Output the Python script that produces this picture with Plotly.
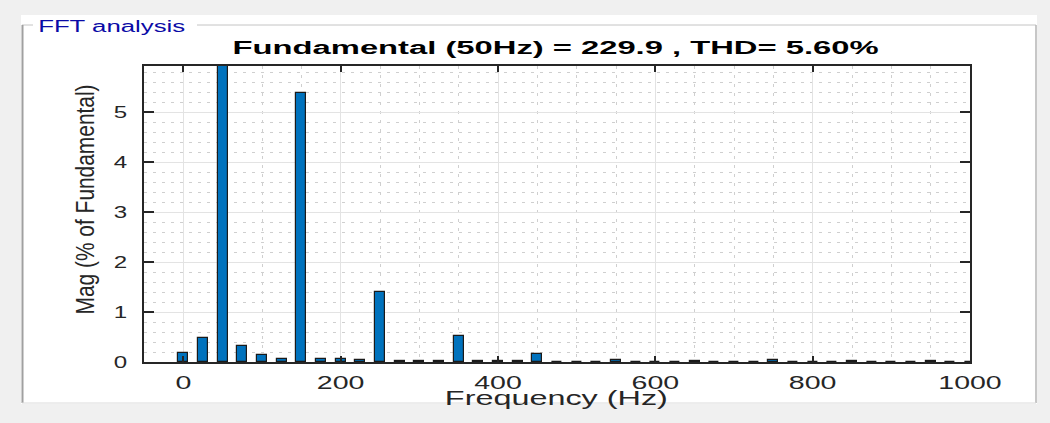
import json
import plotly.graph_objects as go

# FFT spectrum of the measured signal, 25 Hz resolution, in % of the fundamental
freq_hz = [0, 25, 50, 75, 100, 125, 150, 175, 200, 225, 250, 275, 300, 325, 350,
           375, 400, 425, 450, 475, 500, 525, 550, 575, 600, 625, 650, 675, 700,
           725, 750, 775, 800, 825, 850, 875, 900, 925, 950, 975, 1000]
mag_pct = [0.19, 0.49, 100.0, 0.32, 0.14, 0.07, 5.39, 0.07, 0.06, 0.05, 1.41,
           0.02, 0.02, 0.02, 0.53, 0.02, 0.02, 0.02, 0.17, 0.01, 0.01, 0.01,
           0.05, 0.01, 0.01, 0.01, 0.03, 0.01, 0.01, 0.01, 0.04, 0.01, 0.01,
           0.01, 0.03, 0.01, 0.01, 0.01, 0.03, 0.01, 0.01]
x_ticks = [0, 200, 400, 600, 800, 1000]
y_ticks = [0, 1, 2, 3, 4, 5]

fundamental_hz = 50
fundamental_mag = 229.9
thd_pct = 5.60

W, H = 1050, 423
# axes box in pixels
AX_L, AX_R, AX_T, AX_B = 144, 970, 66, 362


def px(x):
    return (x - AX_L) / (AX_R - AX_L)


def py(y):
    return (AX_B - y) / (AX_B - AX_T)


FONT = "Liberation Sans, Arial, sans-serif"
AXIS_COL = "#262626"

fig = go.Figure()
fig.add_trace(go.Bar(
    x=freq_hz, y=mag_pct, width=13,
    marker=dict(color="#0072BD", line=dict(color="#1a1a1a", width=1.2)),
    hoverinfo="x+y",
))

# uipanel-style frame around the axes (top edge broken for the panel title)
shapes = [
    dict(type="rect", xref="paper", yref="paper", layer="below",
         x0=px(21), x1=px(1037), y0=py(404), y1=py(15),
         fillcolor="white", line=dict(width=0)),
    dict(type="line", xref="paper", yref="paper", x0=px(22), x1=px(33),
         y0=py(25), y1=py(25), line=dict(color="#c4c4c4", width=1)),
    dict(type="line", xref="paper", yref="paper", x0=px(197), x1=px(1036),
         y0=py(25), y1=py(25), line=dict(color="#c4c4c4", width=1)),
    dict(type="line", xref="paper", yref="paper", x0=px(22.5), x1=px(22.5),
         y0=py(25), y1=py(403), line=dict(color="#a0a0a0", width=2)),
    dict(type="line", xref="paper", yref="paper", x0=px(1036), x1=px(1036),
         y0=py(25), y1=py(403), line=dict(color="#b4b4b4", width=1.5)),
    dict(type="line", xref="paper", yref="paper", x0=px(22), x1=px(1036),
         y0=py(403), y1=py(403), line=dict(color="#dadada", width=1)),
]

annotations = [
    dict(text="FFT analysis", xref="paper", yref="paper", x=px(111.5), y=py(26),
         xanchor="center", yanchor="middle", showarrow=False,
         font=dict(family=FONT, size=16, color="#0a0aa6")),
    dict(text=f"Fundamental ({fundamental_hz}Hz) = {fundamental_mag} , THD= {thd_pct:.2f}%",
         xref="paper", yref="paper", x=px(555), y=py(48), xanchor="center",
         yanchor="middle", showarrow=False,
         font=dict(family=FONT, size=18, color="black", weight="bold")),
    dict(text="Frequency (Hz)", xref="paper", yref="paper", x=px(556), y=py(397),
         xanchor="center", yanchor="middle", showarrow=False,
         font=dict(family=FONT, size=21, color=AXIS_COL)),
    dict(text="Mag (% of Fundamental)", xref="paper", yref="paper", x=px(85),
         y=py(200), xanchor="center", yanchor="middle", textangle=-90,
         showarrow=False, font=dict(family=FONT, size=25, color=AXIS_COL)),
]
# rendered text run length (px) of each annotation above, in order
annotation_run_px = [147, 646, 223, 230]
TICK_WIDEN = 1.5

fig.update_layout(
    width=W, height=H,
    margin=dict(l=AX_L, r=W - AX_R, t=AX_T, b=H - AX_B, pad=0),
    paper_bgcolor="#f0f0f0", plot_bgcolor="white",
    showlegend=False, bargap=0,
    shapes=shapes, annotations=annotations,
    font=dict(family=FONT, color=AXIS_COL),
)

fig.update_xaxes(
    range=[-50, 1000], tickvals=x_ticks, ticks="inside", ticklen=6,
    tickwidth=1.5, tickcolor=AXIS_COL, showline=True, linecolor=AXIS_COL,
    linewidth=1.5, mirror="ticks", showgrid=True, gridcolor="#e3e3e3",
    gridwidth=1, zeroline=False, tickfont=dict(size=19, color=AXIS_COL),
    ticklabelstandoff=2,
    minor=dict(dtick=50, tick0=0, showgrid=True, gridcolor="#cfcfcf",
               griddash="3px,6px", gridwidth=1, ticks=""),
)
fig.update_yaxes(
    range=[0, 5.92], tickvals=y_ticks, ticks="inside", ticklen=10,
    tickwidth=1.5, tickcolor=AXIS_COL, showline=True, linecolor=AXIS_COL,
    linewidth=1.5, mirror="ticks", showgrid=True, gridcolor="#e3e3e3",
    gridwidth=1, zeroline=False, tickfont=dict(size=16, color=AXIS_COL),
    ticklabelstandoff=12,
    minor=dict(dtick=0.2, tick0=0, showgrid=True, gridcolor="#cfcfcf",
               griddash="3px,6px", gridwidth=1, ticks=""),
)

# MATLAB-style wide lettering: set the run length of labels and tick text
fit_js = """
var gd = document.getElementById('{plot_id}');
var runs = %s, widen = %s;
function setRun(t, len) {
  t.setAttribute('textLength', len.toFixed(1));
  t.setAttribute('lengthAdjust', 'spacingAndGlyphs');
}
function fitText() {
  gd.querySelectorAll('g.annotation').forEach(function (g) {
    var i = parseInt(g.getAttribute('data-index'), 10);
    var t = g.querySelector('text');
    if (t && runs[i]) setRun(t, runs[i]);
  });
  gd.querySelectorAll('g.xtick text, g.ytick text').forEach(function (t) {
    if (t.getAttribute('textLength')) return;
    var w = t.getComputedTextLength();
    if (w > 0) setRun(t, w * widen);
  });
}
fitText();
""" % (json.dumps(annotation_run_px), TICK_WIDEN)

fig.write_html("out.html", post_script=fit_js, config={"displayModeBar": False})
